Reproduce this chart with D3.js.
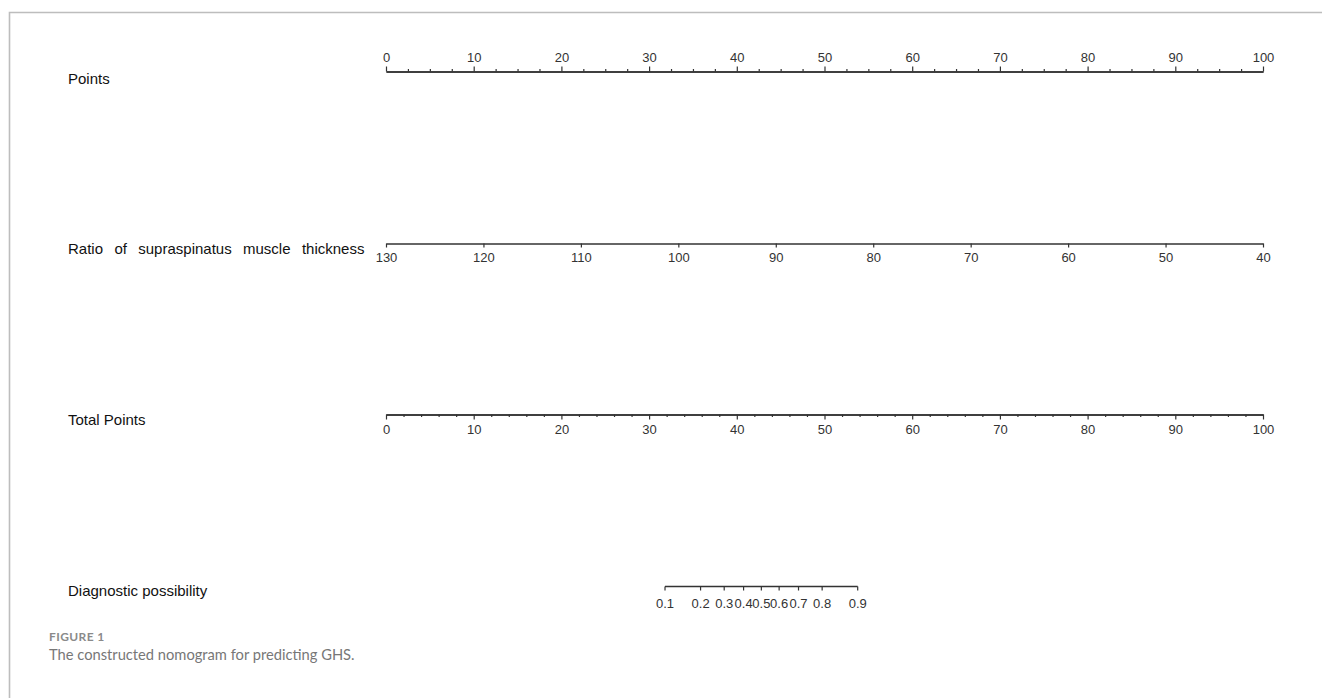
<!DOCTYPE html>
<html>
<head>
<meta charset="utf-8">
<script src="https://cdn.jsdelivr.net/npm/d3@7"></script>
<style>
  html, body { margin: 0; padding: 0; background: #fff; }
  svg { display: block; }
  .lab { font-family: "Liberation Sans", Arial, sans-serif; font-size: 15px; fill: #111; }
  .tick text { font-family: "Liberation Sans", Arial, sans-serif; font-size: 13px; fill: #333; }
  .axis path, .axis line { stroke: #333; }
</style>
</head>
<body>
<svg id="chart" width="1322" height="698"></svg>
<script>
// Nomogram scales
const pointsMajor = [0, 10, 20, 30, 40, 50, 60, 70, 80, 90, 100];
const pointsMinorStep = 2.5;

const ratioRange = [130, 40];          // ratio value at 0 and 100 points
const ratioTicks = [130, 120, 110, 100, 90, 80, 70, 60, 50, 40];

const totalMajor = [0, 10, 20, 30, 40, 50, 60, 70, 80, 90, 100];
const totalMinorStep = 2;

// logistic link: total points where p = 0.5, and logit change per point
const probCenter = 42.8;
const probSlope = 0.2;
const probTicks = [0.1, 0.2, 0.3, 0.4, 0.5, 0.6, 0.7, 0.8, 0.9];

const rowLabels = ["Points", "Ratio of supraspinatus muscle thickness", "Total Points", "Diagnostic possibility"];

const svg = d3.select("#chart");

// frame
svg.append("path")
  .attr("d", "M9.5,698 V12.5 H1322")
  .attr("fill", "none").attr("stroke", "#bdbdbd").attr("stroke-width", 1.6);

const x = d3.scaleLinear().domain([0, 100]).range([386, 1263]);
const ratioToPts = d3.scaleLinear().domain(ratioRange).range([0, 100]);
const probToPts = p => probCenter + Math.log(p / (1 - p)) / probSlope;

const rowY = [71.5, 243.5, 414.5, 586.5];

// row labels
const labelY = [83.5, 254, 425, 596];
rowLabels.forEach((t, i) => {
  svg.append("text").attr("class", "lab")
    .attr("x", 68).attr("y", labelY[i])
    .style("word-spacing", i === 1 ? "7.2px" : null)
    .text(t);
});

function styleAxis(g) {
  g.attr("class", "axis");
  g.select(".domain").attr("stroke-width", 1.3);
  g.selectAll(".tick line").attr("stroke-width", 1.2);
}

// Points axis (ticks above)
const pMinor = d3.range(0, 100 + 1e-9, pointsMinorStep).filter(v => v % 10 !== 0);
svg.append("g").attr("transform", `translate(0,${rowY[0]})`)
  .call(d3.axisTop(x).tickValues(pMinor).tickSize(2.5).tickSizeOuter(0).tickFormat(""))
  .call(styleAxis);
svg.append("g").attr("transform", `translate(0,${rowY[0]})`)
  .call(d3.axisTop(x).tickValues(pointsMajor).tickSize(5).tickSizeOuter(0).tickPadding(5).tickFormat(d3.format("d")))
  .call(styleAxis);

// Ratio axis (ticks below)
const xr = d3.scaleLinear().domain(ratioRange).range([x(ratioToPts(ratioRange[0])), x(ratioToPts(ratioRange[1]))]);
svg.append("g").attr("transform", `translate(0,${rowY[1]})`)
  .call(d3.axisBottom(xr).tickValues(ratioTicks).tickSize(4).tickSizeOuter(0).tickPadding(5).tickFormat(d3.format("d")))
  .call(styleAxis);

// Total points axis (ticks below)
const tMinor = d3.range(0, 100 + 1e-9, totalMinorStep).filter(v => v % 10 !== 0);
svg.append("g").attr("transform", `translate(0,${rowY[2]})`)
  .call(d3.axisBottom(x).tickValues(tMinor).tickSize(2.5).tickSizeOuter(0).tickFormat(""))
  .call(styleAxis);
svg.append("g").attr("transform", `translate(0,${rowY[2]})`)
  .call(d3.axisBottom(x).tickValues(totalMajor).tickSize(5).tickSizeOuter(0).tickPadding(5).tickFormat(d3.format("d")))
  .call(styleAxis);

// Diagnostic possibility axis
const probAxisScale = v => x(probToPts(v));
const pg = svg.append("g").attr("class", "axis").attr("transform", `translate(0,${rowY[3]})`);
pg.append("line")
  .attr("x1", probAxisScale(probTicks[0])).attr("x2", probAxisScale(probTicks[probTicks.length - 1]))
  .attr("stroke", "#333").attr("stroke-width", 1.3);
const pt = pg.selectAll("g.tick").data(probTicks).join("g").attr("class", "tick")
  .attr("transform", d => `translate(${probAxisScale(d)},0)`);
pt.append("line").attr("y2", 4).attr("stroke", "#333").attr("stroke-width", 1.2);
pt.append("text").attr("y", 21).attr("text-anchor", "middle").text(d => d3.format(".1f")(d));

// caption
svg.append("text").attr("x", 49).attr("y", 641)
  .style("font-family", "Lato, 'Open Sans', sans-serif").style("font-size", "12px").style("font-weight", "700")
  .style("fill", "#8a8a8a").style("letter-spacing", "0.4px")
  .text("FIGURE 1");
svg.append("text").attr("x", 49).attr("y", 660)
  .style("font-family", "Lato, 'Open Sans', sans-serif").style("font-size", "14.7px")
  .style("fill", "#777")
  .text("The constructed nomogram for predicting GHS.");
</script>
</body>
</html>
